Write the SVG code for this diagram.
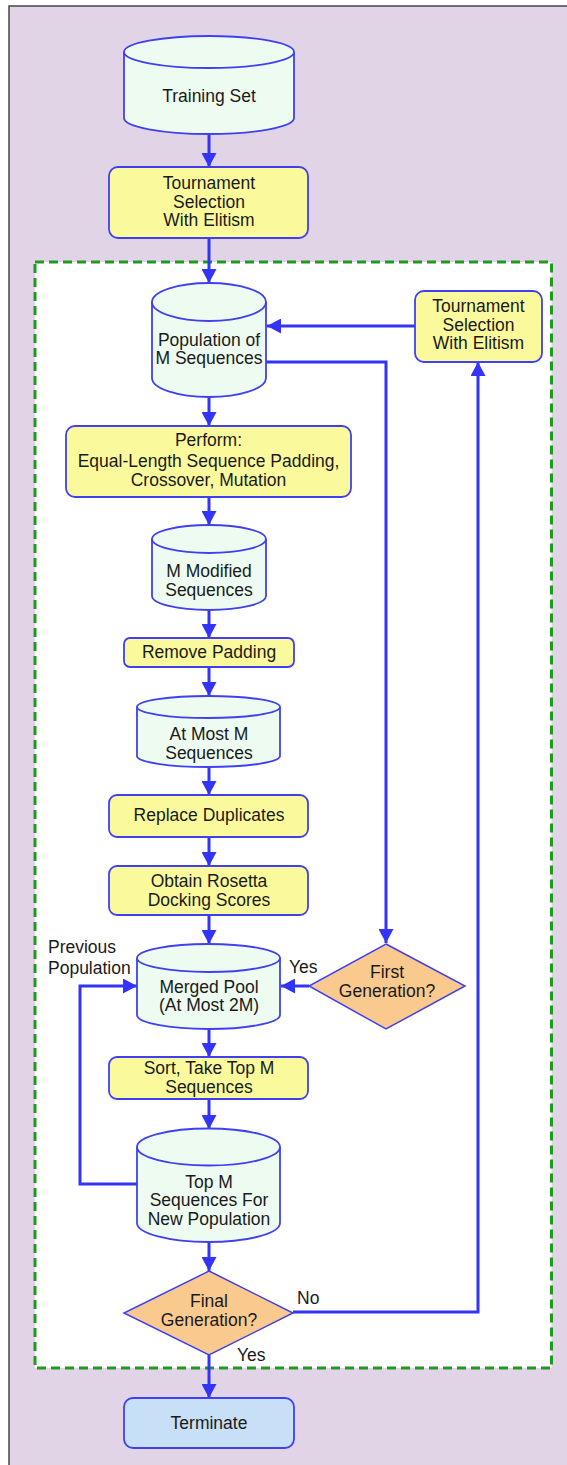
<svg xmlns="http://www.w3.org/2000/svg" width="567" height="1465" viewBox="0 0 567 1465">
<defs>
<style>
.cyl{fill:#EEFBF1;stroke:#4040F0;stroke-width:1.8}
.box{fill:#FAFA9C;stroke:#4040F0;stroke-width:1.8}
.dia{fill:#F9C98E;stroke:#4040F0;stroke-width:1.5}
.term{fill:#C7DFF7;stroke:#4040F0;stroke-width:1.8}
.t{font-family:"Liberation Sans",Arial,sans-serif;font-size:17.5px;fill:#1A1A1A;text-anchor:middle}
.l{font-family:"Liberation Sans",Arial,sans-serif;font-size:17.5px;fill:#1A1A1A}
.c{fill:none;stroke:#3333FA;stroke-width:3}
</style>
<marker id="ah" markerUnits="userSpaceOnUse" markerWidth="15" markerHeight="15" refX="14" refY="7.5" orient="auto">
<path d="M0,0 L14,7.5 L0,15 Z" fill="#3333FA"/>
</marker>
</defs>
<rect x="9" y="6" width="600" height="1500" fill="#E0D4E6" stroke="#444" stroke-width="1.5"/>
<rect id="loop" x="35" y="262" width="516.5" height="1106" fill="#FFFFFF" stroke="#1E9A1E" stroke-width="3" stroke-dasharray="9 5"/>

<g id="connectors" class="c">
<line x1="209" y1="134" x2="209" y2="167" marker-end="url(#ah)"/>
<line x1="209" y1="238" x2="209" y2="283" marker-end="url(#ah)"/>
<line x1="415" y1="326" x2="267" y2="326" marker-end="url(#ah)"/>
<polyline points="266,362 386,362 386,943" marker-end="url(#ah)"/>
<line x1="209" y1="397" x2="209" y2="426" marker-end="url(#ah)"/>
<line x1="209" y1="497" x2="209" y2="525" marker-end="url(#ah)"/>
<line x1="209" y1="610" x2="209" y2="638" marker-end="url(#ah)"/>
<line x1="209" y1="667" x2="209" y2="696" marker-end="url(#ah)"/>
<line x1="209" y1="767" x2="209" y2="795" marker-end="url(#ah)"/>
<line x1="209" y1="837" x2="209" y2="866" marker-end="url(#ah)"/>
<line x1="209" y1="915" x2="209" y2="944" marker-end="url(#ah)"/>
<line x1="309" y1="986" x2="281" y2="986" marker-end="url(#ah)"/>
<polyline points="137,1184 80,1184 80,986 137,986" marker-end="url(#ah)"/>
<line x1="209" y1="1029" x2="209" y2="1057" marker-end="url(#ah)"/>
<line x1="209" y1="1099" x2="209" y2="1129" marker-end="url(#ah)"/>
<line x1="209" y1="1242" x2="209" y2="1271" marker-end="url(#ah)"/>
<polyline points="293,1312 478,1312 478,362" marker-end="url(#ah)"/>
<line x1="209" y1="1355" x2="209" y2="1398" marker-end="url(#ah)"/>
</g>

<g id="training-set">
<path class="cyl" d="M124,52 L124,118 A85,16 0 0 0 294,118 L294,52"/>
<ellipse class="cyl" cx="209" cy="52" rx="85" ry="16"/>
<text class="t" x="209" y="102">Training Set</text>
</g>

<g id="tournament-1">
<rect class="box" x="109" y="167" width="199" height="71" rx="9"/>
<text class="t" x="209" y="189">Tournament</text>
<text class="t" x="209" y="208">Selection</text>
<text class="t" x="209" y="226">With Elitism</text>
</g>

<g id="population">
<path class="cyl" d="M152,302 L152,378 A57,19 0 0 0 266,378 L266,302"/>
<ellipse class="cyl" cx="209" cy="302" rx="57" ry="19"/>
<text class="t" x="209" y="346">Population of</text>
<text class="t" x="209" y="364">M Sequences</text>
</g>

<g id="tournament-2">
<rect class="box" x="415" y="291" width="127" height="71" rx="9"/>
<text class="t" x="478.5" y="312">Tournament</text>
<text class="t" x="478.5" y="331">Selection</text>
<text class="t" x="478.5" y="349">With Elitism</text>
</g>

<g id="perform">
<rect class="box" x="66" y="426" width="285" height="71" rx="9"/>
<text class="t" x="208.5" y="446">Perform:</text>
<text class="t" x="208.5" y="467">Equal-Length Sequence Padding,</text>
<text class="t" x="208.5" y="486">Crossover, Mutation</text>
</g>

<g id="m-modified">
<path class="cyl" d="M152,539 L152,596 A57,14 0 0 0 266,596 L266,539"/>
<ellipse class="cyl" cx="209" cy="539" rx="57" ry="14"/>
<text class="t" x="209" y="577">M Modified</text>
<text class="t" x="209" y="596">Sequences</text>
</g>

<g id="remove-padding">
<rect class="box" x="124" y="638" width="170" height="29" rx="6"/>
<text class="t" x="209" y="658">Remove Padding</text>
</g>

<g id="at-most-m">
<path class="cyl" d="M137,707 L137,756 A71.5,11 0 0 0 280,756 L280,707"/>
<ellipse class="cyl" cx="208.5" cy="707" rx="71.5" ry="11"/>
<text class="t" x="209" y="740">At Most M</text>
<text class="t" x="209" y="759">Sequences</text>
</g>

<g id="replace-duplicates">
<rect class="box" x="109" y="795" width="199" height="42" rx="8"/>
<text class="t" x="209" y="821">Replace Duplicates</text>
</g>

<g id="obtain-rosetta">
<rect class="box" x="109" y="866" width="199" height="49" rx="8"/>
<text class="t" x="209" y="887">Obtain Rosetta</text>
<text class="t" x="209" y="906">Docking Scores</text>
</g>

<g id="merged-pool">
<path class="cyl" d="M137,958 L137,1015 A71.5,14 0 0 0 280,1015 L280,958"/>
<ellipse class="cyl" cx="208.5" cy="958" rx="71.5" ry="14"/>
<text class="t" x="209" y="993">Merged Pool</text>
<text class="t" x="209" y="1011">(At Most 2M)</text>
</g>

<g id="first-generation">
<polygon class="dia" points="386,944 465,986 386,1029 309,986"/>
<text class="t" x="387" y="978">First</text>
<text class="t" x="387" y="997">Generation?</text>
</g>

<g id="sort">
<rect class="box" x="109" y="1057" width="199" height="42" rx="8"/>
<text class="t" x="209" y="1074">Sort, Take Top M</text>
<text class="t" x="209" y="1093">Sequences</text>
</g>

<g id="top-m">
<path class="cyl" d="M137,1147 L137,1223 A71.5,19 0 0 0 280,1223 L280,1147"/>
<ellipse class="cyl" cx="208.5" cy="1147" rx="71.5" ry="18.5"/>
<text class="t" x="209" y="1188">Top M</text>
<text class="t" x="209" y="1206">Sequences For</text>
<text class="t" x="209" y="1225">New Population</text>
</g>

<g id="final-generation">
<polygon class="dia" points="209,1271 293,1313 209,1355 124,1313"/>
<text class="t" x="209" y="1307">Final</text>
<text class="t" x="209" y="1326">Generation?</text>
</g>

<g id="terminate">
<rect class="term" x="124" y="1398" width="170" height="50" rx="9"/>
<text class="t" x="209" y="1429">Terminate</text>
</g>

<g id="labels">
<text class="l" x="48" y="953">Previous</text>
<text class="l" x="48" y="974">Population</text>
<text class="l" x="289" y="973">Yes</text>
<text class="l" x="297" y="1304">No</text>
<text class="l" x="237" y="1361">Yes</text>
</g>
</svg>
